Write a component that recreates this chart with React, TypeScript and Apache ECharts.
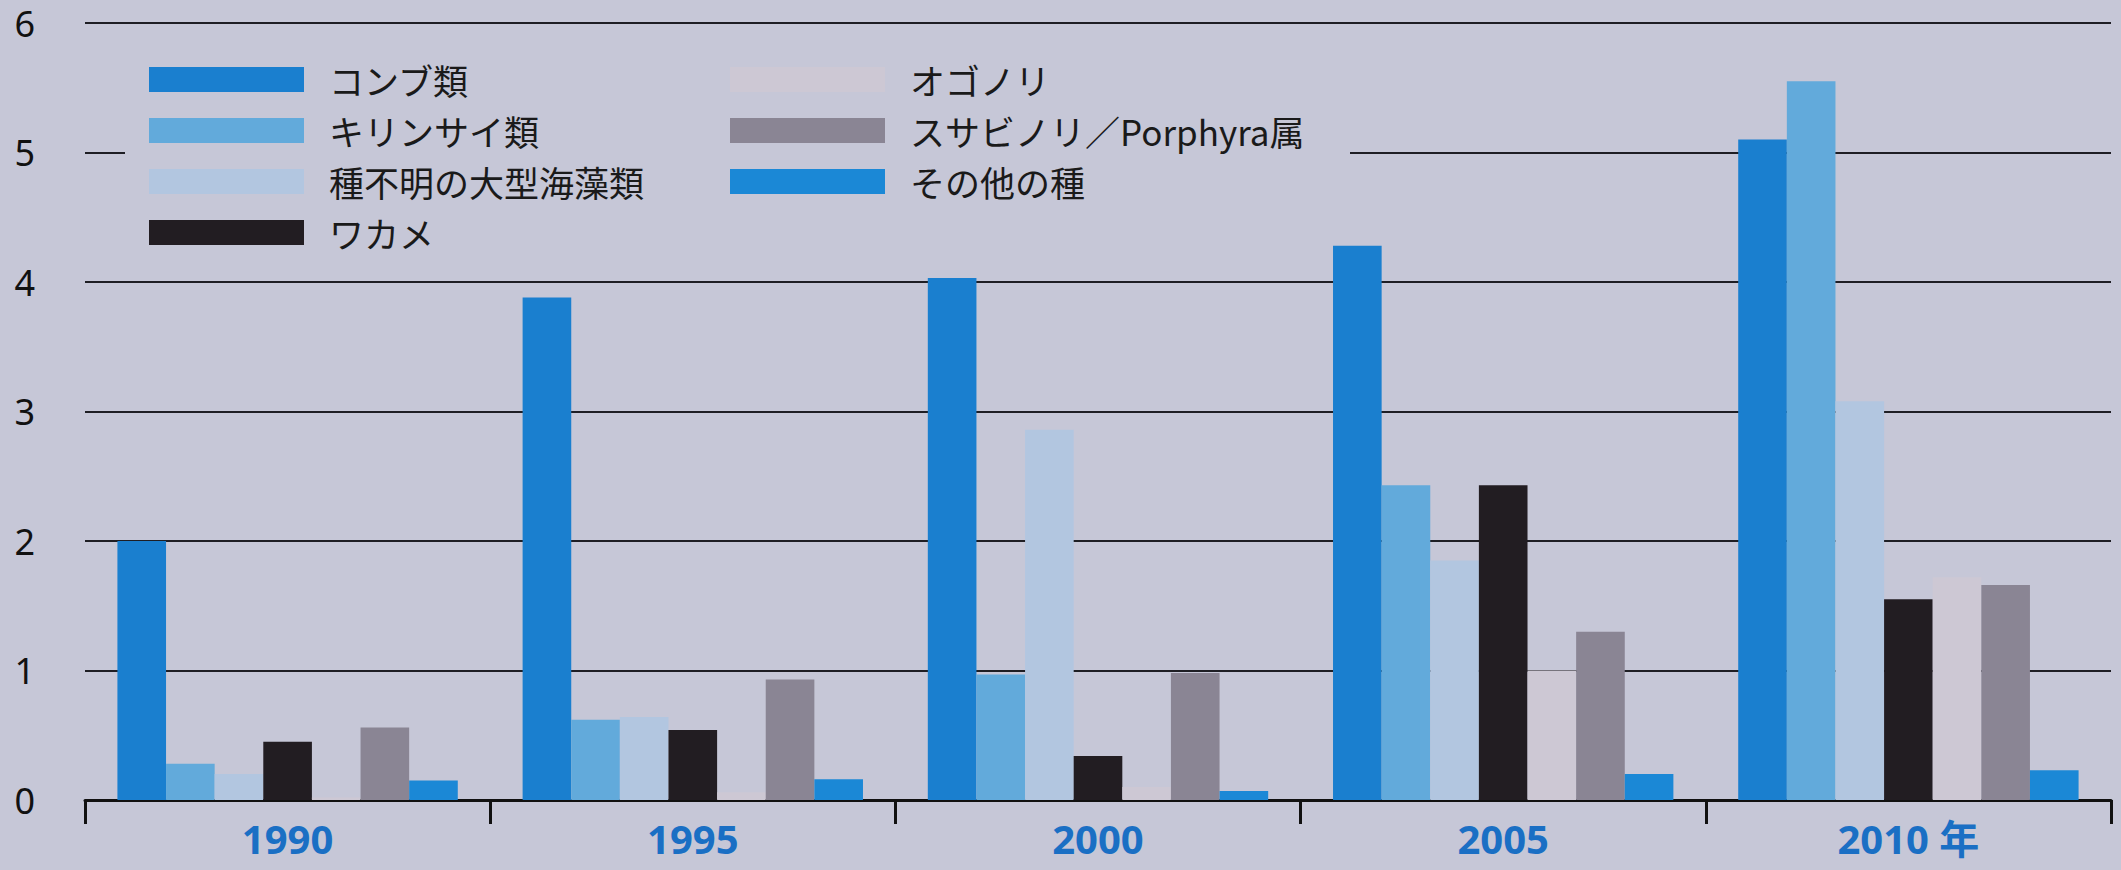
import React, { useEffect, useRef } from "react";
import * as echarts from "echarts";

const years = ["1990", "1995", "2000", "2005", "2010 年"];
const seriesNames = [
  "コンブ類",
  "キリンサイ類",
  "種不明の大型海藻類",
  "ワカメ",
  "オゴノリ",
  "スサビノリ／Porphyra属",
  "その他の種",
];
const kombu = [2.0, 3.88, 4.03, 4.28, 5.1];
const kirinsai = [0.28, 0.62, 0.97, 2.43, 5.55];
const unknownSp = [0.2, 0.64, 2.86, 1.85, 3.08];
const wakame = [0.45, 0.54, 0.34, 2.43, 1.55];
const ogonori = [0.02, 0.06, 0.1, 1.0, 1.72];
const susabinori = [0.56, 0.93, 0.98, 1.3, 1.66];
const others = [0.15, 0.16, 0.07, 0.2, 0.23];
const yTicks = [0, 1, 2, 3, 4, 5, 6];

const colors = ["#1a7fcf", "#62aadb", "#b2c6e0", "#221d22", "#cdc8d4", "#8a8594", "#1b88d6"];
const bg = "#c6c7d7";

export default function App() {
  const ref = useRef<HTMLDivElement>(null);
  useEffect(() => {
    document.body.style.margin = "0";
    const chart = echarts.init(ref.current!, null, { renderer: "svg" });
    const values = [kombu, kirinsai, unknownSp, wakame, ogonori, susabinori, others];
    const legendText = {
      fontFamily: "'Noto Sans CJK JP', 'Noto Sans', sans-serif",
      fontSize: 35,
      color: "#1a1a1a",
      padding: [0, 0, 0, 20],
    };
    const legendBase = {
      orient: "vertical",
      top: 62,
      padding: 0,
      itemWidth: 155,
      itemHeight: 25,
      itemGap: 16,
      icon: "rect",
      textStyle: legendText,
    };
    chart.setOption({
      animation: false,
      backgroundColor: bg,
      color: colors,
      grid: { left: 85, right: 10, top: 23, bottom: 70, containLabel: false },
      legend: [
        { ...legendBase, data: seriesNames.slice(0, 4), left: 149 },
        { ...legendBase, data: seriesNames.slice(4), left: 730 },
      ],
      graphic: [
        {
          type: "rect",
          z: 1,
          shape: { x: 125, y: 60, width: 1225, height: 200 },
          style: { fill: bg },
        },
      ],
      xAxis: {
        type: "category",
        data: years,
        axisLine: { lineStyle: { color: "#111", width: 3 } },
        axisTick: { show: true, length: 24, lineStyle: { color: "#111", width: 3 } },
        axisLabel: {
          color: "#1a6fc4",
          fontSize: 40,
          fontWeight: "bold",
          fontFamily: "'Noto Sans', 'Noto Sans CJK JP', sans-serif",
          margin: 18,
        },
        splitLine: { show: false },
      },
      yAxis: {
        type: "value",
        min: yTicks[0],
        max: yTicks[yTicks.length - 1],
        interval: 1,
        axisLine: { show: false },
        axisTick: { show: false },
        axisLabel: {
          color: "#111",
          fontSize: 36,
          fontFamily: "'Noto Sans', sans-serif",
          margin: 50,
        },
        splitLine: { lineStyle: { color: "#1e1e24", width: 2 } },
      },
      series: values.map((v, i) => ({
        name: seriesNames[i],
        type: "bar",
        data: v,
        barGap: "0%",
        barCategoryGap: "16%",
        z: 2,
      })),
    });
    return () => chart.dispose();
  }, []);
  return <div ref={ref} style={{ width: 2121, height: 870 }} />;
}
